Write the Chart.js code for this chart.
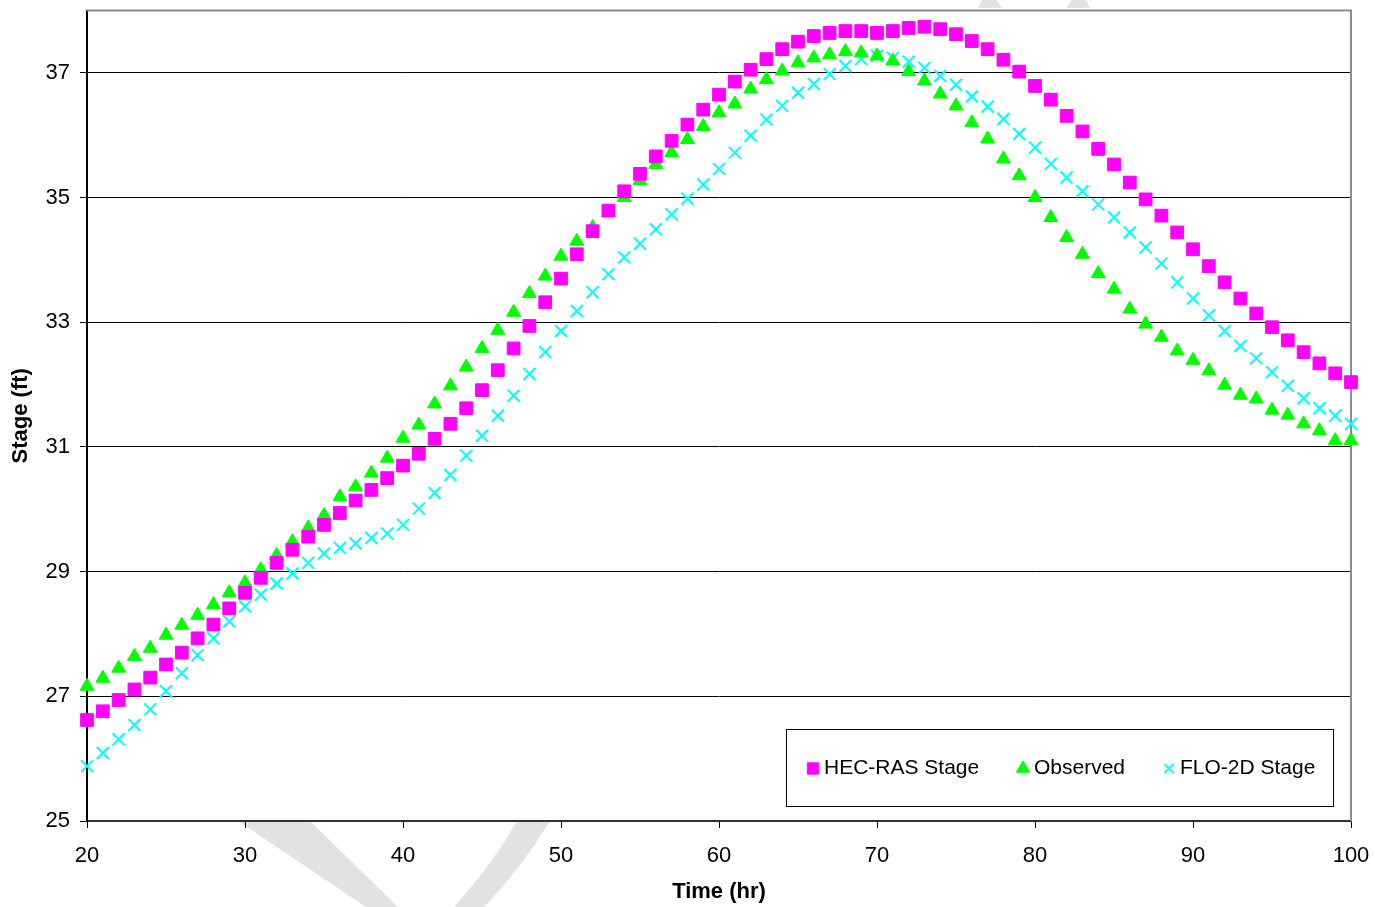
<!DOCTYPE html>
<html>
<head>
<meta charset="utf-8">
<script src="https://cdn.jsdelivr.net/npm/chart.js@4.4.1/dist/chart.umd.min.js"></script>
<style>
  body { margin: 0; background: #fff; }
  #wrap { width: 1375px; height: 907px; position: relative; }
</style>
</head>
<body>
<div id="wrap"><canvas id="stageChart"></canvas></div>
<script>
// time in hours, one reading per hour
const hours = [];
for (let h = 20; h <= 100; h++) hours.push(h);

const hecRas = [26.62, 26.76, 26.94, 27.11, 27.30, 27.51, 27.70, 27.93, 28.15, 28.41,
  28.66, 28.90, 29.14, 29.35, 29.56, 29.75, 29.94, 30.14, 30.31, 30.50,
  30.70, 30.89, 31.13, 31.37, 31.62, 31.91, 32.23, 32.58, 32.94, 33.32,
  33.70, 34.09, 34.46, 34.79, 35.10, 35.38, 35.66, 35.91, 36.17, 36.41,
  36.65, 36.86, 37.05, 37.22, 37.38, 37.50, 37.59, 37.64, 37.67, 37.67,
  37.64, 37.67, 37.72, 37.74, 37.70, 37.62, 37.51, 37.38, 37.21, 37.02,
  36.79, 36.57, 36.31, 36.06, 35.78, 35.53, 35.24, 34.97, 34.71, 34.44,
  34.17, 33.90, 33.64, 33.38, 33.14, 32.92, 32.71, 32.52, 32.34, 32.18, 32.04];

const observed = [27.16, 27.29, 27.45, 27.64, 27.77, 27.98, 28.14, 28.30, 28.47, 28.66,
  28.82, 29.03, 29.26, 29.48, 29.70, 29.90, 30.20, 30.36, 30.58, 30.82,
  31.14, 31.35, 31.69, 31.98, 32.28, 32.58, 32.87, 33.16, 33.46, 33.74,
  34.06, 34.30, 34.52, 34.76, 35.00, 35.27, 35.53, 35.72, 35.93, 36.14,
  36.36, 36.50, 36.74, 36.89, 37.03, 37.16, 37.24, 37.29, 37.34, 37.32,
  37.27, 37.19, 37.02, 36.87, 36.66, 36.47, 36.20, 35.94, 35.62, 35.35,
  35.00, 34.68, 34.36, 34.09, 33.78, 33.53, 33.21, 32.97, 32.76, 32.54,
  32.39, 32.22, 31.99, 31.83, 31.77, 31.59, 31.51, 31.37, 31.26, 31.10, 31.10];

const flo2d = [25.88, 26.09, 26.31, 26.54, 26.79, 27.08, 27.37, 27.66, 27.93, 28.20,
  28.44, 28.63, 28.81, 28.97, 29.14, 29.29, 29.38, 29.45, 29.54, 29.61,
  29.75, 30.01, 30.26, 30.55, 30.86, 31.18, 31.50, 31.82, 32.17, 32.52,
  32.86, 33.18, 33.48, 33.77, 34.04, 34.26, 34.49, 34.73, 34.98, 35.21,
  35.46, 35.72, 35.99, 36.25, 36.47, 36.68, 36.82, 36.98, 37.11, 37.22,
  37.27, 37.24, 37.18, 37.08, 36.95, 36.81, 36.62, 36.46, 36.26, 36.02,
  35.80, 35.54, 35.32, 35.10, 34.89, 34.68, 34.44, 34.20, 33.94, 33.64,
  33.38, 33.11, 32.86, 32.62, 32.42, 32.20, 31.98, 31.78, 31.62, 31.50, 31.37];

const seriesNames = ['HEC-RAS Stage', 'Observed', 'FLO-2D Stage'];
const yTicks = [25, 27, 29, 31, 33, 35, 37];

const FONT = "'Liberation Sans', Arial, sans-serif";

function pts(vals) {
  return vals.map((v, i) => ({ x: hours[i], y: v }));
}

// light grey watermark strokes behind the plot
const watermark = {
  id: 'watermark',
  beforeDraw(chart) {
    const ctx = chart.ctx;
    ctx.save();
    ctx.fillStyle = '#e2e2e2';
    ctx.beginPath();
    ctx.moveTo(238, 821); ctx.lineTo(310, 821); ctx.lineTo(398, 907); ctx.lineTo(366, 907);
    ctx.closePath(); ctx.fill();
    ctx.beginPath();
    ctx.moveTo(517, 821); ctx.lineTo(550, 821);
    ctx.quadraticCurveTo(520, 870, 484, 907);
    ctx.lineTo(454, 907);
    ctx.quadraticCurveTo(492, 865, 517, 821);
    ctx.closePath(); ctx.fill();
    ctx.beginPath();
    ctx.moveTo(982, 0); ctx.lineTo(996, 0); ctx.lineTo(1002, 8); ctx.lineTo(978, 8);
    ctx.closePath(); ctx.fill();
    ctx.beginPath();
    ctx.moveTo(1072, 0); ctx.lineTo(1086, 0); ctx.lineTo(1090, 8); ctx.lineTo(1066, 8);
    ctx.closePath(); ctx.fill();
    ctx.restore();
  }
};

// plot area: white fill, grey frame on top and right
const plotFrame = {
  id: 'plotFrame',
  beforeDraw(chart) {
    const { ctx, chartArea: a } = chart;
    ctx.save();
    ctx.fillStyle = '#fff';
    ctx.fillRect(a.left, a.top, a.right - a.left, a.bottom - a.top);
    ctx.restore();
  },
  beforeDatasetsDraw(chart) {
    const { ctx, chartArea: a } = chart;
    ctx.save();
    ctx.strokeStyle = '#8c8c8c';
    ctx.lineWidth = 2;
    ctx.beginPath();
    ctx.moveTo(a.left, a.top);
    ctx.lineTo(a.right, a.top);
    ctx.lineTo(a.right, a.bottom);
    ctx.stroke();
    ctx.restore();
  }
};

// legend box inside the plot, bottom right
const boxLegend = {
  id: 'boxLegend',
  afterDraw(chart) {
    const { ctx, chartArea: a } = chart;
    const x0 = a.right - 565, x1 = a.right - 18;
    const y0 = a.bottom - 92, y1 = a.bottom - 15;
    const cy = (y0 + y1) / 2;
    ctx.save();
    ctx.fillStyle = '#fff';
    ctx.fillRect(x0, y0, x1 - x0, y1 - y0);
    ctx.strokeStyle = '#000';
    ctx.lineWidth = 1;
    ctx.strokeRect(x0 + 0.5, y0 + 0.5, x1 - x0, y1 - y0);
    ctx.font = '21px ' + FONT;
    ctx.textBaseline = 'middle';
    ctx.fillStyle = '#000';
    const markX = [x0 + 27, x0 + 237, x0 + 383];
    chart.data.datasets.forEach((ds, i) => {
      const r = i === 0 ? 8 : i === 1 ? 7.5 : 6.5;
      ctx.fillStyle = ds.backgroundColor;
      ctx.strokeStyle = ds.borderColor;
      ctx.lineWidth = i === 2 ? 2 : 1;
      Chart.helpers.drawPoint(ctx, { pointStyle: ds.pointStyle, radius: r, borderWidth: ctx.lineWidth }, markX[i], cy + 1);
      ctx.fillStyle = '#000';
      ctx.fillText(ds.label, markX[i] + 11, cy + 1);
    });
    ctx.restore();
  }
};

new Chart(document.getElementById('stageChart'), {
  type: 'scatter',
  data: {
    datasets: [
      {
        label: seriesNames[0],
        data: pts(hecRas),
        pointStyle: 'rect',
        pointRadius: 9,
        backgroundColor: '#ff00ff',
        borderColor: '#ff00ff',
        borderWidth: 1,
        clip: false
      },
      {
        label: seriesNames[1],
        data: pts(observed),
        pointStyle: 'triangle',
        pointRadius: 8,
        backgroundColor: '#00ff00',
        borderColor: '#00ff00',
        borderWidth: 1,
        clip: false
      },
      {
        label: seriesNames[2],
        data: pts(flo2d),
        pointStyle: 'crossRot',
        pointRadius: 8.5,
        backgroundColor: '#00ffff',
        borderColor: '#00ffff',
        borderWidth: 2,
        clip: false
      }
    ]
  },
  options: {
    responsive: true,
    maintainAspectRatio: false,
    animation: false,
    events: [],
    layout: { padding: { top: 6, right: 24, left: 0, bottom: 0 } },
    plugins: {
      legend: { display: false },
      tooltip: { enabled: false }
    },
    scales: {
      x: {
        type: 'linear',
        min: 20,
        max: 100,
        afterFit(s) { s.height = 86; s.paddingLeft = 0; s.paddingRight = 0; },
        ticks: { stepSize: 10, color: '#000', padding: 15, font: { family: FONT, size: 22 } },
        grid: { drawOnChartArea: false, drawTicks: true, tickLength: 7, tickColor: '#000' },
        border: { display: true, color: '#333', width: 2 },
        title: {
          display: true,
          text: 'Time (hr)',
          color: '#000',
          padding: { top: 0, bottom: 2 },
          font: { family: FONT, size: 22, weight: 'bold' }
        }
      },
      y: {
        min: 25,
        max: 38,
        afterFit(s) { s.width = 87; s.paddingTop = 0; s.paddingBottom = 0; },
        afterBuildTicks(s) { s.ticks = yTicks.map(v => ({ value: v })); },
        ticks: { color: '#000', padding: 10, font: { family: FONT, size: 22 } },
        grid: { color: '#000', lineWidth: 1, drawTicks: true, tickLength: 7, tickColor: '#000' },
        border: { display: true, color: '#000', width: 2 },
        title: {
          display: true,
          text: 'Stage (ft)',
          color: '#000',
          padding: { top: 8, bottom: 0 },
          font: { family: FONT, size: 22, weight: 'bold' }
        }
      }
    }
  },
  plugins: [watermark, plotFrame, boxLegend]
});
</script>
</body>
</html>
